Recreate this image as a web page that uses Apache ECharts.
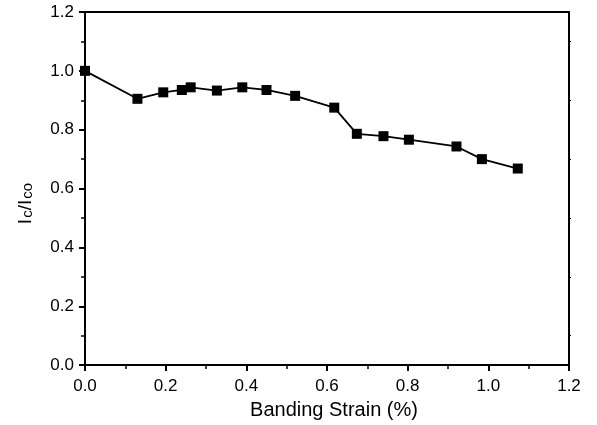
<!DOCTYPE html>
<html>
<head>
<meta charset="utf-8">
<script src="https://cdn.jsdelivr.net/npm/echarts@6/dist/echarts.min.js"></script>
<style>
  html, body { margin: 0; padding: 0; background: #fff; }
  #chart { width: 597px; height: 425px; }
</style>
</head>
<body>
<div id="chart"></div>
<script>
// banding strain (%) vs normalised critical current
const strain = [0, 0.13, 0.194, 0.24, 0.262, 0.327, 0.39, 0.45, 0.521, 0.618, 0.674, 0.74, 0.803, 0.921, 0.984, 1.073]
const icRatio = [1.0, 0.905, 0.927, 0.935, 0.944, 0.933, 0.944, 0.935, 0.915, 0.875, 0.786, 0.778, 0.766, 0.743, 0.700, 0.668]
const xTicks = [0, 0.2, 0.4, 0.6, 0.8, 1.0, 1.2]
const yTicks = [0, 0.2, 0.4, 0.6, 0.8, 1.0, 1.2]

const font = '"Liberation Sans", Arial, sans-serif'
const ink = '#000'

const chart = echarts.init(document.getElementById('chart'), null, { renderer: 'canvas' })

const axisBase = {
  type: 'value',
  min: 0,
  max: 1.2,
  interval: 0.2,
  splitLine: { show: false },
  axisLine: { show: true, onZero: false, lineStyle: { color: ink, width: 2 } },
}

chart.setOption({
  animation: false,
  backgroundColor: '#fff',
  textStyle: { fontFamily: font, color: ink },
  grid: { left: 84, right: 28, top: 12, bottom: 58 },
  xAxis: [
    {
      ...axisBase,
      name: 'Banding Strain (%)',
      nameLocation: 'middle',
      nameGap: 34,
      nameTextStyle: { fontSize: 20, color: ink, fontFamily: font, padding: [0, 0, 0, 14] },
      axisTick: { show: true, inside: false, length: 6, lineStyle: { color: ink, width: 2 } },
      minorTick: { show: true, splitNumber: 2, length: 4, lineStyle: { color: ink, width: 1.5 } },
      axisLabel: {
        fontSize: 17, color: ink, margin: 13, fontFamily: font,
        formatter: (v) => (xTicks.includes(Math.round(v * 10) / 10) ? v.toFixed(1) : ''),
      },
    },
    {
      ...axisBase,
      position: 'top',
      axisTick: { show: false },
      axisLabel: { show: false },
    },
  ],
  yAxis: [
    {
      ...axisBase,
      // trailing spacer pushes the visible label down a little, like the original
      name: '{a|I}{s|c}{a|/I}{s|co}{sp|}',
      nameLocation: 'middle',
      nameGap: 50,
      nameRotate: 90,
      nameTextStyle: {
        color: ink,
        fontFamily: font,
        rich: {
          a: { fontSize: 19, color: ink, fontFamily: font, lineHeight: 26, verticalAlign: 'bottom' },
          s: { fontSize: 15, color: ink, fontFamily: font, lineHeight: 26, verticalAlign: 'bottom', padding: [12, 0, 0, 1] },
          sp: { width: 30, lineHeight: 26 },
        },
      },
      axisTick: { show: true, inside: false, length: 6, lineStyle: { color: ink, width: 2 } },
      minorTick: { show: true, splitNumber: 2, length: 4, lineStyle: { color: ink, width: 1.5 } },
      axisLabel: {
        fontSize: 17, color: ink, margin: 11, fontFamily: font,
        formatter: (v) => (yTicks.includes(Math.round(v * 10) / 10) ? v.toFixed(1) : ''),
      },
    },
    {
      ...axisBase,
      position: 'right',
      axisTick: { show: false },
      minorTick: { show: true, splitNumber: 2, length: 2, lineStyle: { color: ink, width: 1 } },
      axisLabel: { show: false },
    },
  ],
  series: [
    {
      type: 'line',
      data: strain.map((x, i) => [x, icRatio[i]]),
      symbol: 'rect',
      symbolSize: 10,
      itemStyle: { color: ink },
      lineStyle: { color: ink, width: 1.8 },
      z: 5,
    },
  ],
})
</script>
</body>
</html>
